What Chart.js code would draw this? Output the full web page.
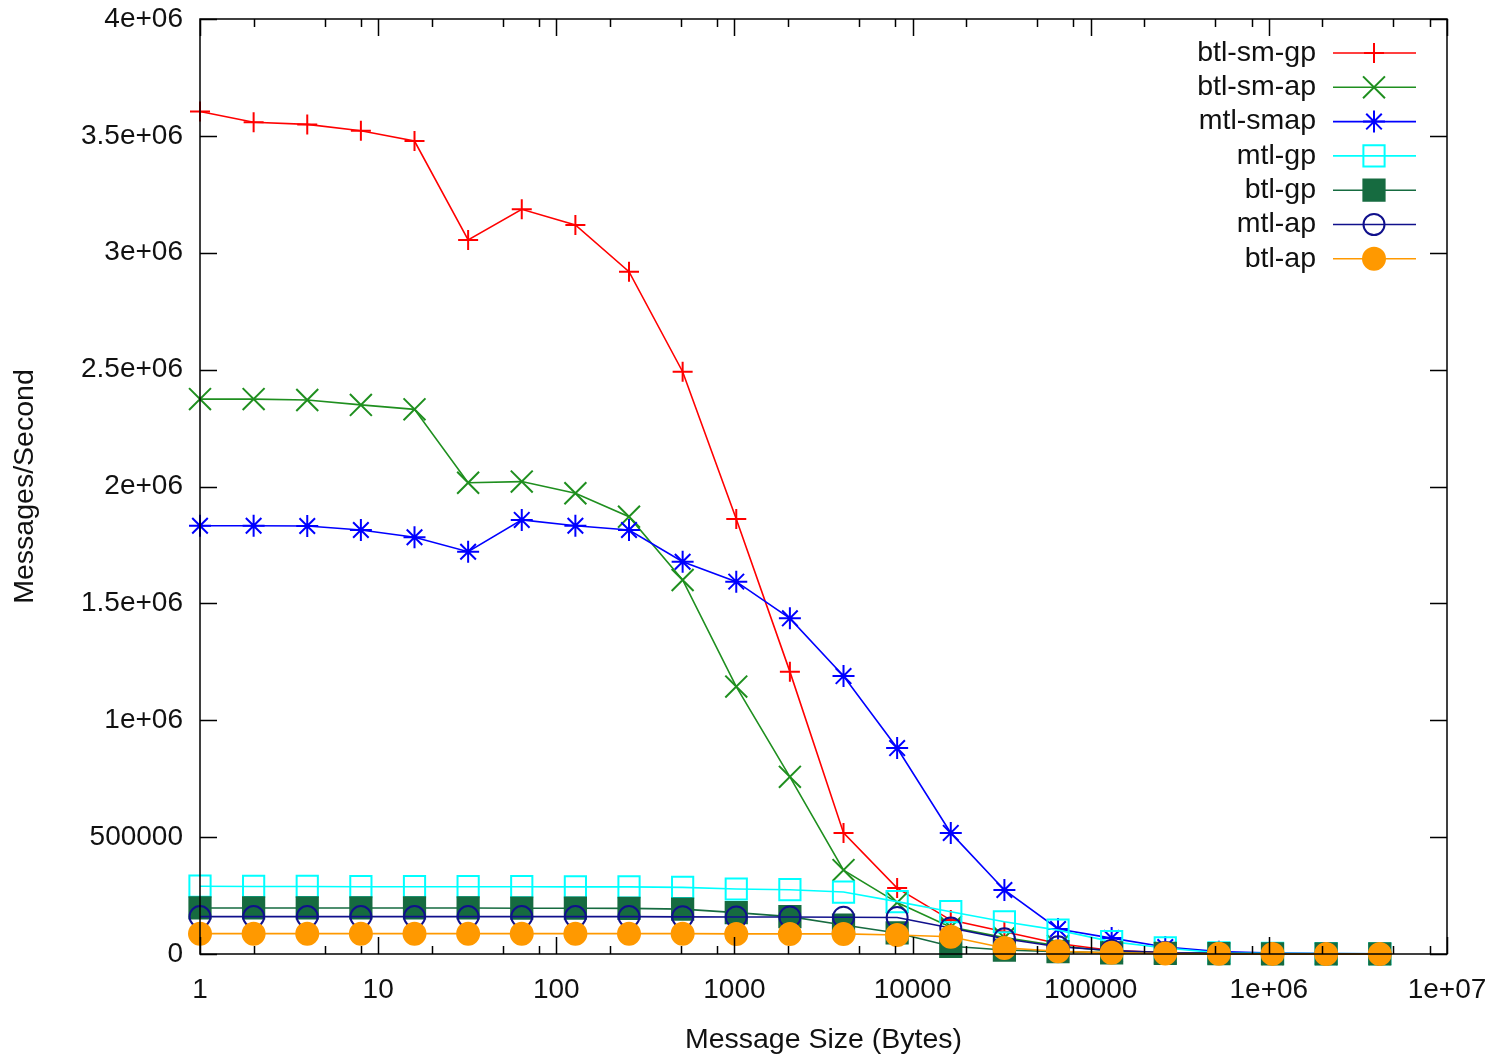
<!DOCTYPE html>
<html>
<head>
<meta charset="utf-8">
<title>Messages/Second vs Message Size</title>
<script src="https://cdn.jsdelivr.net/npm/chart.js@4.4.1/dist/chart.umd.min.js"></script>
<style>
  html, body { margin: 0; padding: 0; background: #ffffff; }
  #wrap { width: 1490px; height: 1059px; }
</style>
</head>
<body>
<div id="wrap"><canvas id="chart" width="1490" height="1059"></canvas></div>
<script>
// message sizes in bytes (2^0 .. 2^22)
const messageSizes = [1, 2, 4, 8, 16, 32, 64, 128, 256, 512, 1024, 2048, 4096, 8192,
  16384, 32768, 65536, 131072, 262144, 524288, 1048576, 2097152, 4194304];

const btlSmGp = [3604000, 3558000, 3549000, 3522000, 3478000, 3055000, 3186000, 3119000,
  2919000, 2491000, 1861000, 1208000, 518000, 282000, 145000, 95000, 45000, 15000, 6000,
  3000, 1500, 800, 400];
const btlSmAp = [2374000, 2374000, 2370000, 2349000, 2330000, 2016000, 2021000, 1971000,
  1871000, 1600000, 1144000, 758000, 359000, 220000, 115000, 70000, 35000, 12000, 5000,
  2500, 1200, 600, 300];
const mtlSmap = [1832000, 1832000, 1831000, 1814000, 1783000, 1721000, 1857000, 1832000,
  1814000, 1678000, 1593000, 1436000, 1189000, 881000, 518000, 274000, 107000, 68000,
  30000, 10000, 4000, 2000, 1000];
const mtlGp = [290000, 289000, 289000, 288000, 288000, 288000, 288000, 287000, 287000,
  285000, 278000, 275000, 265000, 224000, 181000, 138000, 102000, 53000, 26000, 5000,
  3000, 2000, 1000];
const btlGp = [197000, 197000, 197000, 197000, 197000, 197000, 196000, 196000, 195000,
  192000, 177000, 160000, 124000, 90000, 33000, 17000, 10000, 5000, 2500, 1500, 800,
  400, 200];
const mtlAp = [160000, 160000, 160000, 160000, 160000, 160000, 160000, 160000, 160000,
  159000, 158000, 158000, 157000, 156000, 111000, 65000, 31000, 15000, 6000, 2500, 1200,
  600, 300];
const btlAp = [87000, 87000, 87000, 87000, 87000, 87000, 87000, 87000, 87000, 87000,
  86000, 86000, 86000, 81000, 74000, 26000, 12000, 5000, 2000, 1000, 500, 250, 120];

const seriesNames = ["btl-sm-gp", "btl-sm-ap", "mtl-smap", "mtl-gp", "btl-gp", "mtl-ap", "btl-ap"];

// axis ticks
const xTicks = [1, 10, 100, 1000, 10000, 100000, 1000000, 10000000];
const xTickLabels = ["1", "10", "100", "1000", "10000", "100000", "1e+06", "1e+07"];
const xMinorSteps = [2, 5, 8];
const yTicks = [0, 500000, 1000000, 1500000, 2000000, 2500000, 3000000, 3500000, 4000000];
const yTickLabels = ["0", "500000", "1e+06", "1.5e+06", "2e+06", "2.5e+06", "3e+06", "3.5e+06", "4e+06"];

const FONT = "'Liberation Sans', Arial, Helvetica, sans-serif";

function pts(values) {
  return values.map((v, i) => ({ x: messageSizes[i], y: v }));
}

function series(i, values, color, style, radius, filled) {
  return {
    label: seriesNames[i],
    data: pts(values),
    borderColor: color,
    borderWidth: 1.6,
    pointStyle: style,
    pointRadius: radius,
    pointHoverRadius: radius,
    pointBorderColor: color,
    pointBorderWidth: 2,
    pointBackgroundColor: filled ? color : "rgba(0,0,0,0)",
    tension: 0,
    fill: false,
    clip: false,
    order: 10 - i,
  };
}

const datasets = [
  series(0, btlSmGp, "#ff0000", "cross", 10, false),
  series(1, btlSmAp, "#1f8f1f", "crossRot", 15.5, false),
  series(2, mtlSmap, "#0000ff", "star", 11, false),
  series(3, mtlGp, "#00ffff", "rect", 15, false),
  series(4, btlGp, "#166b40", "rect", 15, true),
  series(5, mtlAp, "#10108c", "circle", 10.5, false),
  series(6, btlAp, "#ff9900", "circle", 11, true),
];

// no extra room for overhanging labels, the layout padding fixes the plot box
function noPadding(scale) {
  scale.paddingTop = 0;
  scale.paddingBottom = 0;
  scale.paddingLeft = 0;
  scale.paddingRight = 0;
}

// frame, inward ticks on all four sides, and the gnuplot style key
const framePlugin = {
  id: "frame",
  afterDatasetsDraw(chart) {
    const ctx = chart.ctx;
    const a = chart.chartArea;
    const xs = chart.scales.x;
    const ys = chart.scales.y;
    ctx.save();
    ctx.strokeStyle = "#000000";
    ctx.lineWidth = 1.5;
    ctx.strokeRect(a.left, a.top, a.right - a.left, a.bottom - a.top);

    ctx.beginPath();
    yTicks.forEach((v) => {
      const y = Math.round(ys.getPixelForValue(v)) + 0.5;
      ctx.moveTo(a.left, y); ctx.lineTo(a.left + 17, y);
      ctx.moveTo(a.right, y); ctx.lineTo(a.right - 17, y);
    });
    xTicks.forEach((v, k) => {
      const x = Math.round(xs.getPixelForValue(v)) + 0.5;
      ctx.moveTo(x, a.bottom); ctx.lineTo(x, a.bottom - 17);
      ctx.moveTo(x, a.top); ctx.lineTo(x, a.top + 17);
      if (k < xTicks.length - 1) {
        xMinorSteps.forEach((m) => {
          const xm = Math.round(xs.getPixelForValue(v * m)) + 0.5;
          ctx.moveTo(xm, a.bottom); ctx.lineTo(xm, a.bottom - 8);
          ctx.moveTo(xm, a.top); ctx.lineTo(xm, a.top + 8);
        });
      }
    });
    ctx.stroke();

    // key
    const rowY = 53, rowGap = 34.3;
    ctx.font = "28.5px " + FONT;
    ctx.textAlign = "right";
    ctx.textBaseline = "middle";
    chart.data.datasets.forEach((ds, i) => {
      const y = rowY + i * rowGap;
      ctx.fillStyle = "#111111";
      ctx.fillText(ds.label, 1316, y);
      ctx.strokeStyle = ds.borderColor;
      ctx.lineWidth = ds.borderWidth;
      ctx.beginPath();
      ctx.moveTo(1333, y); ctx.lineTo(1416, y);
      ctx.stroke();
      ctx.strokeStyle = ds.pointBorderColor;
      ctx.fillStyle = ds.pointBackgroundColor;
      ctx.lineWidth = ds.pointBorderWidth;
      Chart.helpers.drawPoint(ctx, {
        pointStyle: ds.pointStyle,
        radius: ds.pointRadius,
        rotation: 0,
        borderWidth: ds.pointBorderWidth,
      }, 1374, y);
    });
    ctx.restore();
  },
};

new Chart(document.getElementById("chart"), {
  type: "line",
  data: { datasets: datasets },
  plugins: [framePlugin],
  options: {
    responsive: false,
    animation: false,
    layout: { padding: { top: 19, right: 43, left: 0, bottom: 0 } },
    plugins: {
      legend: { display: false },
      tooltip: { enabled: false },
    },
    scales: {
      x: {
        type: "logarithmic",
        min: 1,
        max: 10000000,
        grid: { display: false, drawTicks: false },
        border: { display: false },
        afterBuildTicks: (scale) => {
          scale.ticks = xTicks.map((v) => ({ value: v }));
        },
        afterFit: (scale) => { scale.height = 105; noPadding(scale); },
        ticks: {
          autoSkip: false,
          maxRotation: 0,
          padding: 19,
          color: "#111111",
          font: { family: FONT, size: 28 },
          callback: (value, index) => xTickLabels[index],
        },
        title: {
          display: true,
          text: "Message Size (Bytes)",
          color: "#111111",
          font: { family: FONT, size: 28.5 },
          padding: { top: 0, bottom: 1.5 },
        },
      },
      y: {
        type: "linear",
        min: 0,
        max: 4000000,
        grid: { display: false, drawTicks: false },
        border: { display: false },
        afterBuildTicks: (scale) => {
          scale.ticks = yTicks.map((v) => ({ value: v }));
        },
        afterFit: (scale) => { scale.width = 200; noPadding(scale); },
        ticks: {
          autoSkip: false,
          padding: 17,
          color: "#111111",
          font: { family: FONT, size: 28 },
          callback: (value, index) => yTickLabels[index],
        },
        title: {
          display: true,
          text: "Messages/Second",
          color: "#111111",
          font: { family: FONT, size: 28.5 },
          padding: { top: 8, bottom: 0 },
        },
      },
    },
  },
});
</script>
</body>
</html>
